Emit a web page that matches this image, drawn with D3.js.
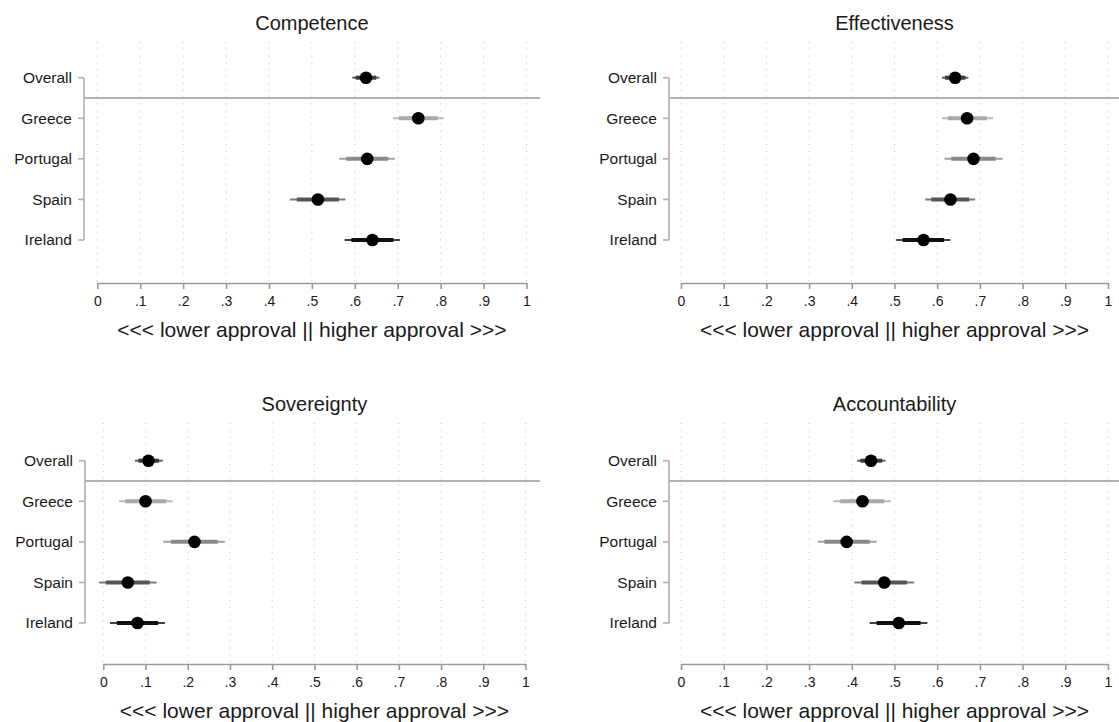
<!DOCTYPE html>
<html>
<head>
<meta charset="utf-8">
<script src="https://cdn.jsdelivr.net/npm/d3@7"></script>
<style>
  html, body { margin: 0; padding: 0; background: #fff; }
  svg { display: block; font-family: "Liberation Sans", Arial, sans-serif; }
</style>
</head>
<body>
<svg id="chart" width="1119" height="722"></svg>
<script>
// Rows of every panel, top to bottom
const countries = ["Overall", "Greece", "Portugal", "Spain", "Ireland"];
const panelTitles = ["Competence", "Effectiveness", "Sovereignty", "Accountability"];
const tickValues = [0, 0.1, 0.2, 0.3, 0.4, 0.5, 0.6, 0.7, 0.8, 0.9, 1];
const tickLabels = ["0", ".1", ".2", ".3", ".4", ".5", ".6", ".7", ".8", ".9", "1"];
const axisTitle = "<<< lower approval || higher approval >>>";

// Point estimates with wide (outer) and narrow (inner) confidence intervals
const competenceEst   = [0.626, 0.748, 0.629, 0.514, 0.641];
const competenceOuter = [[0.594, 0.657], [0.689, 0.807], [0.564, 0.693], [0.449, 0.578], [0.576, 0.705]];
const competenceInner = [[0.602, 0.650], [0.703, 0.793], [0.580, 0.678], [0.465, 0.563], [0.592, 0.690]];

const effectivenessEst   = [0.642, 0.670, 0.685, 0.631, 0.568];
const effectivenessOuter = [[0.611, 0.673], [0.611, 0.731], [0.617, 0.753], [0.572, 0.689], [0.504, 0.631]];
const effectivenessInner = [[0.618, 0.666], [0.625, 0.716], [0.633, 0.737], [0.586, 0.675], [0.519, 0.616]];

const sovereigntyEst   = [0.107, 0.100, 0.216, 0.058, 0.081];
const sovereigntyOuter = [[0.075, 0.141], [0.037, 0.164], [0.142, 0.288], [-0.010, 0.126], [0.016, 0.146]];
const sovereigntyInner = [[0.083, 0.132], [0.052, 0.149], [0.160, 0.271], [0.006, 0.110], [0.032, 0.130]];

const accountabilityEst   = [0.445, 0.425, 0.388, 0.476, 0.510];
const accountabilityOuter = [[0.412, 0.479], [0.357, 0.492], [0.320, 0.458], [0.406, 0.546], [0.442, 0.577]];
const accountabilityInner = [[0.420, 0.471], [0.373, 0.476], [0.336, 0.442], [0.423, 0.529], [0.458, 0.561]];

const panelEst   = [competenceEst, effectivenessEst, sovereigntyEst, accountabilityEst];
const panelOuter = [competenceOuter, effectivenessOuter, sovereigntyOuter, accountabilityOuter];
const panelInner = [competenceInner, effectivenessInner, sovereigntyInner, accountabilityInner];

// Interval colour for each row
const rowColors = ["#3a3a3a", "#a8a8a8", "#8a8a8a", "#555555", "#111111"];

// Panel geometry
const layout = [
  { x0: 97.3,  x1: 526.5, axisX: 84,  right: 540,  dy: 0,   axisDy: 0 },
  { x0: 681,   x1: 1108,  axisX: 669, right: 1119, dy: 0,   axisDy: 0 },
  { x0: 103.3, x1: 525.5, axisX: 85,  right: 540,  dy: 383, axisDy: 381 },
  { x0: 681,   x1: 1108,  axisX: 669, right: 1119, dy: 383, axisDy: 381 }
];

const svg = d3.select("#chart");

panelTitles.forEach((title, p) => {
  const L = layout[p];
  // frame layer (grid, axis, titles) sits beneath the marks layer
  const ga = svg.append("g").attr("transform", `translate(0,${L.axisDy})`);
  const g = svg.append("g").attr("transform", `translate(0,${L.dy})`);
  const x = d3.scaleLinear().domain([0, 1]).range([L.x0, L.x1]);
  const y = d3.scaleLinear().domain([0, 4]).range([77.7, 240]);
  const gridTop = 42, axisY = 283;

  // dotted vertical grid
  ga.append("g").selectAll("line").data(tickValues).join("line")
    .attr("x1", d => x(d)).attr("x2", d => x(d))
    .attr("y1", gridTop).attr("y2", axisY)
    .attr("stroke", "#c8c8c8").attr("stroke-width", 1)
    .attr("stroke-dasharray", "1.2,5.6");

  // separator between the overall estimate and the countries
  g.append("line")
    .attr("x1", L.axisX).attr("x2", L.right)
    .attr("y1", y(0.5)).attr("y2", y(0.5))
    .attr("stroke", "#9a9a9a").attr("stroke-width", 1.6);

  // y axis: spine, ticks and labels
  g.append("line")
    .attr("x1", L.axisX).attr("x2", L.axisX)
    .attr("y1", y(0)).attr("y2", y(4))
    .attr("stroke", "#b0b0b0").attr("stroke-width", 1.6);
  g.append("g").selectAll("line").data(countries).join("line")
    .attr("x1", L.axisX - 6).attr("x2", L.axisX)
    .attr("y1", (d, i) => y(i)).attr("y2", (d, i) => y(i))
    .attr("stroke", "#b0b0b0").attr("stroke-width", 1.6);
  g.append("g").selectAll("text").data(countries).join("text")
    .attr("x", L.axisX - 12).attr("y", (d, i) => y(i))
    .attr("dy", "0.35em").attr("text-anchor", "end")
    .attr("font-size", 15.5).attr("fill", "#1a1a1a")
    .text(d => d);

  // confidence intervals
  const outer = panelOuter[p], inner = panelInner[p], est = panelEst[p];
  g.append("g").selectAll("line").data(outer).join("line")
    .attr("x1", d => x(d[0])).attr("x2", d => x(d[1]))
    .attr("y1", (d, i) => y(i)).attr("y2", (d, i) => y(i))
    .attr("stroke", (d, i) => rowColors[i]).attr("stroke-opacity", 0.8)
    .attr("stroke-width", 2);
  g.append("g").selectAll("line").data(inner).join("line")
    .attr("x1", d => x(d[0])).attr("x2", d => x(d[1]))
    .attr("y1", (d, i) => y(i)).attr("y2", (d, i) => y(i))
    .attr("stroke", (d, i) => rowColors[i])
    .attr("stroke-width", 4);

  // point estimates
  g.append("g").selectAll("circle").data(est).join("circle")
    .attr("cx", d => x(d)).attr("cy", (d, i) => y(i))
    .attr("r", 6.3).attr("fill", "#000");

  // x axis
  const ax = ga.append("g").attr("transform", `translate(0,${axisY})`)
    .call(d3.axisBottom(x).tickValues(tickValues)
      .tickFormat((d, i) => tickLabels[i])
      .tickSize(6).tickSizeOuter(0).tickPadding(7));
  ax.select(".domain").attr("stroke", "#9a9a9a").attr("stroke-width", 1.6);
  ax.selectAll(".tick line").attr("stroke", "#9a9a9a").attr("stroke-width", 1.6);
  ax.selectAll(".tick text").attr("font-size", 14).attr("fill", "#1a1a1a")
    .attr("font-family", "Liberation Sans, Arial, sans-serif");

  const cx = (L.x0 + L.x1) / 2;
  ga.append("text").attr("x", cx).attr("y", 336.5)
    .attr("text-anchor", "middle").attr("font-size", 21).attr("fill", "#1a1a1a")
    .text(axisTitle);

  // panel title
  ga.append("text").attr("x", cx).attr("y", 30)
    .attr("text-anchor", "middle").attr("font-size", 20).attr("fill", "#1a1a1a")
    .text(title);
});
</script>
</body>
</html>
